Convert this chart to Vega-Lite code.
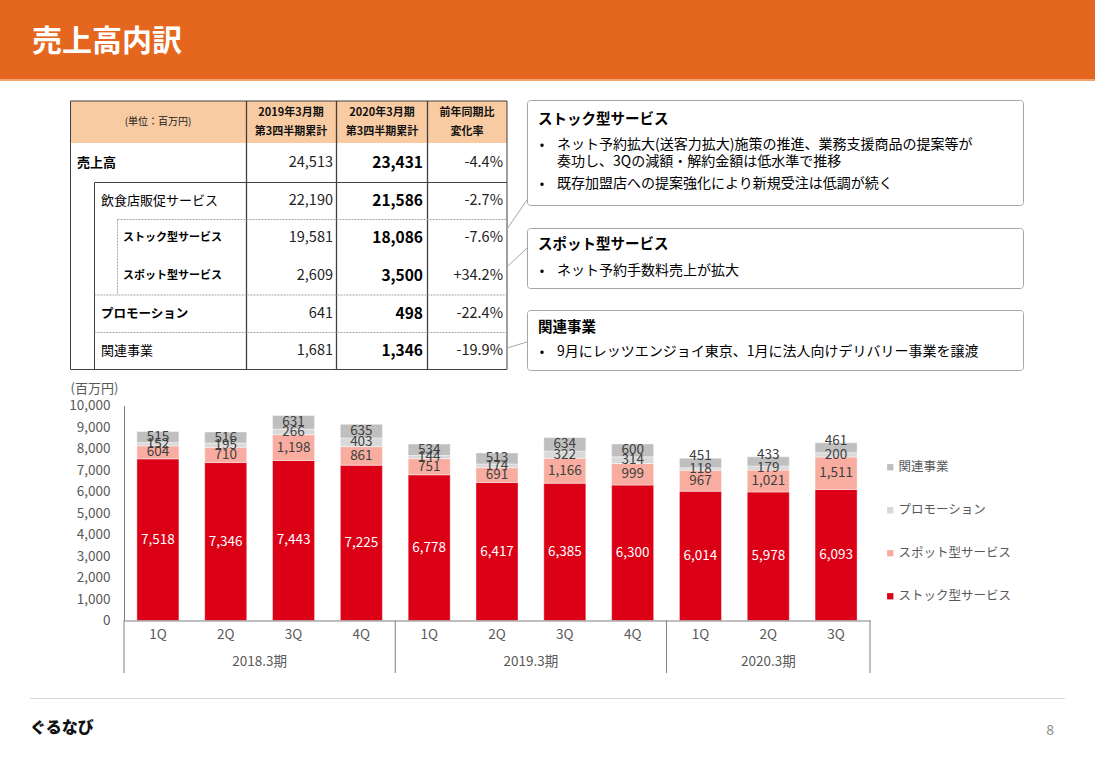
{
  "$schema": "https://vega.github.io/schema/vega-lite/v6.json",
  "width": 1095,
  "height": 758,
  "padding": 0,
  "autosize": {"type": "none"},
  "background": "#ffffff",
  "config": {"view": {"stroke": null}, "font": "Noto Sans CJK JP"},
  "data": {"values": [{}]},
  "layer": [
    {"mark": {"type": "rect", "fill": "#E5671F"}, "encoding": {"x": {"value": 0}, "x2": {"value": 1095}, "y": {"value": 0}, "y2": {"value": 79}}},
    {"mark": {"type": "rect", "fill": "#F3A56F"}, "encoding": {"x": {"value": 0}, "x2": {"value": 1095}, "y": {"value": 79}, "y2": {"value": 81}}},
    {"mark": {"type": "text", "text": "売上高内訳", "align": "left", "baseline": "middle", "fontSize": 30, "fontWeight": "bold", "fill": "#ffffff"}, "encoding": {"x": {"value": 32}, "y": {"value": 42}}},

    {"mark": {"type": "rect", "fill": "#F8CBA2"}, "encoding": {"x": {"value": 70.5}, "x2": {"value": 507}, "y": {"value": 101}, "y2": {"value": 143}}},
    {"mark": {"type": "rule", "stroke": "#404040", "strokeWidth": 1}, "encoding": {"x": {"value": 70.5}, "x2": {"value": 507}, "y": {"value": 101}, "y2": {"value": 101}}},
    {"mark": {"type": "rule", "stroke": "#404040", "strokeWidth": 1}, "encoding": {"x": {"value": 70.5}, "x2": {"value": 507}, "y": {"value": 369.5}, "y2": {"value": 369.5}}},
    {"mark": {"type": "rule", "stroke": "#404040", "strokeWidth": 1}, "encoding": {"x": {"value": 70.5}, "x2": {"value": 70.5}, "y": {"value": 101}, "y2": {"value": 369.5}}},
    {"mark": {"type": "rule", "stroke": "#404040", "strokeWidth": 1}, "encoding": {"x": {"value": 507}, "x2": {"value": 507}, "y": {"value": 101}, "y2": {"value": 369.5}}},
    {"mark": {"type": "rule", "stroke": "#404040", "strokeWidth": 1.3}, "encoding": {"x": {"value": 246.5}, "x2": {"value": 246.5}, "y": {"value": 101}, "y2": {"value": 369.5}}},
    {"mark": {"type": "rule", "stroke": "#404040", "strokeWidth": 1.3}, "encoding": {"x": {"value": 336.5}, "x2": {"value": 336.5}, "y": {"value": 101}, "y2": {"value": 369.5}}},
    {"mark": {"type": "rule", "stroke": "#404040", "strokeWidth": 1.3}, "encoding": {"x": {"value": 427.5}, "x2": {"value": 427.5}, "y": {"value": 101}, "y2": {"value": 369.5}}},
    {"mark": {"type": "rule", "stroke": "#404040", "strokeWidth": 1}, "encoding": {"x": {"value": 94.5}, "x2": {"value": 507}, "y": {"value": 182.5}, "y2": {"value": 182.5}}},
    {"mark": {"type": "rule", "stroke": "#404040", "strokeWidth": 1}, "encoding": {"x": {"value": 94.5}, "x2": {"value": 94.5}, "y": {"value": 182.5}, "y2": {"value": 369.5}}},
    {"mark": {"type": "rule", "stroke": "#A6A6A6", "strokeWidth": 1, "strokeDash": [2, 1]}, "encoding": {"x": {"value": 117.5}, "x2": {"value": 117.5}, "y": {"value": 219.5}, "y2": {"value": 295}}},
    {"mark": {"type": "rule", "stroke": "#A6A6A6", "strokeWidth": 1, "strokeDash": [2, 1]}, "encoding": {"x": {"value": 117.5}, "x2": {"value": 507}, "y": {"value": 219.5}, "y2": {"value": 219.5}}},
    {"mark": {"type": "rule", "stroke": "#A6A6A6", "strokeWidth": 1, "strokeDash": [2, 1]}, "encoding": {"x": {"value": 94.5}, "x2": {"value": 507}, "y": {"value": 295}, "y2": {"value": 295}}},
    {"mark": {"type": "rule", "stroke": "#A6A6A6", "strokeWidth": 1, "strokeDash": [2, 1]}, "encoding": {"x": {"value": 94.5}, "x2": {"value": 507}, "y": {"value": 332.5}, "y2": {"value": 332.5}}},
    {"mark": {"type": "text", "text": "(単位：百万円)", "align": "center", "baseline": "middle", "fontSize": 10, "fill": "#222222"}, "encoding": {"x": {"value": 158}, "y": {"value": 122}}},
    {"mark": {"type": "text", "text": "2019年3月期", "align": "center", "baseline": "middle", "fontSize": 11, "fontWeight": "bold", "fill": "#111111"}, "encoding": {"x": {"value": 291}, "y": {"value": 113}}},
    {"mark": {"type": "text", "text": "第3四半期累計", "align": "center", "baseline": "middle", "fontSize": 11, "fontWeight": "bold", "fill": "#111111"}, "encoding": {"x": {"value": 291}, "y": {"value": 132}}},
    {"mark": {"type": "text", "text": "2020年3月期", "align": "center", "baseline": "middle", "fontSize": 11, "fontWeight": "bold", "fill": "#111111"}, "encoding": {"x": {"value": 382}, "y": {"value": 113}}},
    {"mark": {"type": "text", "text": "第3四半期累計", "align": "center", "baseline": "middle", "fontSize": 11, "fontWeight": "bold", "fill": "#111111"}, "encoding": {"x": {"value": 382}, "y": {"value": 132}}},
    {"mark": {"type": "text", "text": "前年同期比", "align": "center", "baseline": "middle", "fontSize": 11, "fontWeight": "bold", "fill": "#111111"}, "encoding": {"x": {"value": 467}, "y": {"value": 113}}},
    {"mark": {"type": "text", "text": "変化率", "align": "center", "baseline": "middle", "fontSize": 11, "fontWeight": "bold", "fill": "#111111"}, "encoding": {"x": {"value": 467}, "y": {"value": 132}}},

    {
      "data": {"values": [
        {"item": "売上高", "fy2019": 24513, "fy2020": 23431, "chg": "-4.4%"},
        {"item": "飲食店販促サービス", "fy2019": 22190, "fy2020": 21586, "chg": "-2.7%"},
        {"item": "ストック型サービス", "fy2019": 19581, "fy2020": 18086, "chg": "-7.6%"},
        {"item": "スポット型サービス", "fy2019": 2609, "fy2020": 3500, "chg": "+34.2%"},
        {"item": "プロモーション", "fy2019": 641, "fy2020": 498, "chg": "-22.4%"},
        {"item": "関連事業", "fy2019": 1681, "fy2020": 1346, "chg": "-19.9%"}
      ]},
      "encoding": {
        "y": {"value": 0},
        "yOffset": {"field": "item", "type": "nominal",
              "scale": {"type": "band", "domain": ["売上高", "飲食店販促サービス", "ストック型サービス", "スポット型サービス", "プロモーション", "関連事業"], "range": [144, 370], "paddingInner": 0, "paddingOuter": 0}}
      },
      "layer": [
        {"transform": [{"filter": "datum.item === '売上高'"}],
         "mark": {"type": "text", "align": "left", "baseline": "middle", "fontSize": 13, "fontWeight": "bold", "fill": "#000000"},
         "encoding": {"x": {"value": 77}, "text": {"field": "item"}}},
        {"transform": [{"filter": "datum.item === '飲食店販促サービス' || datum.item === '関連事業'"}],
         "mark": {"type": "text", "align": "left", "baseline": "middle", "fontSize": 13, "fill": "#000000"},
         "encoding": {"x": {"value": 101}, "text": {"field": "item"}}},
        {"transform": [{"filter": "datum.item === 'プロモーション'"}],
         "mark": {"type": "text", "align": "left", "baseline": "middle", "fontSize": 12.5, "fontWeight": "bold", "fill": "#000000"},
         "encoding": {"x": {"value": 101}, "text": {"field": "item"}}},
        {"transform": [{"filter": "datum.item === 'ストック型サービス' || datum.item === 'スポット型サービス'"}],
         "mark": {"type": "text", "align": "left", "baseline": "middle", "fontSize": 11, "fontWeight": "bold", "fill": "#000000"},
         "encoding": {"x": {"value": 123}, "text": {"field": "item"}}},
        {"mark": {"type": "text", "align": "right", "baseline": "middle", "fontSize": 14.5, "fill": "#222222"},
         "encoding": {"x": {"value": 333}, "text": {"field": "fy2019", "type": "quantitative", "format": ","}}},
        {"mark": {"type": "text", "align": "right", "baseline": "middle", "fontSize": 15.5, "fontWeight": "bold", "fill": "#000000"},
         "encoding": {"x": {"value": 423}, "text": {"field": "fy2020", "type": "quantitative", "format": ","}}},
        {"mark": {"type": "text", "align": "right", "baseline": "middle", "fontSize": 14.5, "fill": "#222222"},
         "encoding": {"x": {"value": 503}, "text": {"field": "chg"}}}
      ]
    },

    {"mark": {"type": "rule", "stroke": "#A6A6A6", "strokeWidth": 1}, "encoding": {"x": {"value": 507}, "y": {"value": 229}, "x2": {"value": 527}, "y2": {"value": 200}}},
    {"mark": {"type": "rule", "stroke": "#A6A6A6", "strokeWidth": 1}, "encoding": {"x": {"value": 507}, "y": {"value": 267}, "x2": {"value": 527}, "y2": {"value": 248}}},
    {"mark": {"type": "rule", "stroke": "#A6A6A6", "strokeWidth": 1}, "encoding": {"x": {"value": 507}, "y": {"value": 348}, "x2": {"value": 527}, "y2": {"value": 342}}},
    {"mark": {"type": "rect", "fill": "#ffffff", "stroke": "#A6A6A6", "strokeWidth": 1, "cornerRadius": 3}, "encoding": {"x": {"value": 527.5}, "x2": {"value": 1023.5}, "y": {"value": 100.5}, "y2": {"value": 205.5}}},
    {"mark": {"type": "rect", "fill": "#ffffff", "stroke": "#A6A6A6", "strokeWidth": 1, "cornerRadius": 3}, "encoding": {"x": {"value": 527.5}, "x2": {"value": 1023.5}, "y": {"value": 228.5}, "y2": {"value": 288.5}}},
    {"mark": {"type": "rect", "fill": "#ffffff", "stroke": "#A6A6A6", "strokeWidth": 1, "cornerRadius": 3}, "encoding": {"x": {"value": 527.5}, "x2": {"value": 1023.5}, "y": {"value": 310.5}, "y2": {"value": 370.5}}},
    {"mark": {"type": "text", "text": "ストック型サービス", "align": "left", "baseline": "middle", "fontSize": 14.5, "fontWeight": "bold", "fill": "#000000"}, "encoding": {"x": {"value": 538}, "y": {"value": 120}}},
    {"mark": {"type": "text", "text": "•", "align": "center", "baseline": "middle", "fontSize": 13, "fill": "#000000"}, "encoding": {"x": {"value": 542}, "y": {"value": 145}}},
    {"mark": {"type": "text", "text": "ネット予約拡大(送客力拡大)施策の推進、業務支援商品の提案等が", "align": "left", "baseline": "middle", "fontSize": 14, "fill": "#000000"}, "encoding": {"x": {"value": 557}, "y": {"value": 145}}},
    {"mark": {"type": "text", "text": "奏功し、3Qの減額・解約金額は低水準で推移", "align": "left", "baseline": "middle", "fontSize": 14, "fill": "#000000"}, "encoding": {"x": {"value": 557}, "y": {"value": 162}}},
    {"mark": {"type": "text", "text": "•", "align": "center", "baseline": "middle", "fontSize": 13, "fill": "#000000"}, "encoding": {"x": {"value": 542}, "y": {"value": 184}}},
    {"mark": {"type": "text", "text": "既存加盟店への提案強化により新規受注は低調が続く", "align": "left", "baseline": "middle", "fontSize": 14, "fill": "#000000"}, "encoding": {"x": {"value": 557}, "y": {"value": 184}}},
    {"mark": {"type": "text", "text": "スポット型サービス", "align": "left", "baseline": "middle", "fontSize": 14.5, "fontWeight": "bold", "fill": "#000000"}, "encoding": {"x": {"value": 538}, "y": {"value": 245}}},
    {"mark": {"type": "text", "text": "•", "align": "center", "baseline": "middle", "fontSize": 13, "fill": "#000000"}, "encoding": {"x": {"value": 542}, "y": {"value": 271}}},
    {"mark": {"type": "text", "text": "ネット予約手数料売上が拡大", "align": "left", "baseline": "middle", "fontSize": 14, "fill": "#000000"}, "encoding": {"x": {"value": 557}, "y": {"value": 271}}},
    {"mark": {"type": "text", "text": "関連事業", "align": "left", "baseline": "middle", "fontSize": 14.5, "fontWeight": "bold", "fill": "#000000"}, "encoding": {"x": {"value": 538}, "y": {"value": 328}}},
    {"mark": {"type": "text", "text": "•", "align": "center", "baseline": "middle", "fontSize": 13, "fill": "#000000"}, "encoding": {"x": {"value": 542}, "y": {"value": 352}}},
    {"mark": {"type": "text", "text": "9月にレッツエンジョイ東京、1月に法人向けデリバリー事業を譲渡", "align": "left", "baseline": "middle", "fontSize": 14, "fill": "#000000"}, "encoding": {"x": {"value": 557}, "y": {"value": 352}}},

    {
      "encoding": {
        "x": {"field": "period", "type": "nominal",
              "scale": {"domain": ["2018.3期 1Q", "2018.3期 2Q", "2018.3期 3Q", "2018.3期 4Q", "2019.3期 1Q", "2019.3期 2Q", "2019.3期 3Q", "2019.3期 4Q", "2020.3期 1Q", "2020.3期 2Q", "2020.3期 3Q"],
                        "range": [124, 870], "paddingInner": 0.38, "paddingOuter": 0.19},
              "axis": {"title": null, "labelExpr": "split(datum.label, ' ')[1]", "ticks": false, "tickSize": 0, "labelPadding": 7, "labelAngle": 0,
                       "labelFontSize": 13.5, "labelColor": "#595959", "domainColor": "#808080", "grid": false, "offset": -137.5, "zindex": 1}}
      },
      "layer": [
        {
          "data": {"values": [
            {"period": "2018.3期 1Q", "fy": "2018.3期", "segment": "ストック型サービス", "value": 7518},
            {"period": "2018.3期 1Q", "fy": "2018.3期", "segment": "スポット型サービス", "value": 604},
            {"period": "2018.3期 1Q", "fy": "2018.3期", "segment": "プロモーション", "value": 152},
            {"period": "2018.3期 1Q", "fy": "2018.3期", "segment": "関連事業", "value": 515},
            {"period": "2018.3期 2Q", "fy": "2018.3期", "segment": "ストック型サービス", "value": 7346},
            {"period": "2018.3期 2Q", "fy": "2018.3期", "segment": "スポット型サービス", "value": 710},
            {"period": "2018.3期 2Q", "fy": "2018.3期", "segment": "プロモーション", "value": 195},
            {"period": "2018.3期 2Q", "fy": "2018.3期", "segment": "関連事業", "value": 516},
            {"period": "2018.3期 3Q", "fy": "2018.3期", "segment": "ストック型サービス", "value": 7443},
            {"period": "2018.3期 3Q", "fy": "2018.3期", "segment": "スポット型サービス", "value": 1198},
            {"period": "2018.3期 3Q", "fy": "2018.3期", "segment": "プロモーション", "value": 266},
            {"period": "2018.3期 3Q", "fy": "2018.3期", "segment": "関連事業", "value": 631},
            {"period": "2018.3期 4Q", "fy": "2018.3期", "segment": "ストック型サービス", "value": 7225},
            {"period": "2018.3期 4Q", "fy": "2018.3期", "segment": "スポット型サービス", "value": 861},
            {"period": "2018.3期 4Q", "fy": "2018.3期", "segment": "プロモーション", "value": 403},
            {"period": "2018.3期 4Q", "fy": "2018.3期", "segment": "関連事業", "value": 635},
            {"period": "2019.3期 1Q", "fy": "2019.3期", "segment": "ストック型サービス", "value": 6778},
            {"period": "2019.3期 1Q", "fy": "2019.3期", "segment": "スポット型サービス", "value": 751},
            {"period": "2019.3期 1Q", "fy": "2019.3期", "segment": "プロモーション", "value": 144},
            {"period": "2019.3期 1Q", "fy": "2019.3期", "segment": "関連事業", "value": 534},
            {"period": "2019.3期 2Q", "fy": "2019.3期", "segment": "ストック型サービス", "value": 6417},
            {"period": "2019.3期 2Q", "fy": "2019.3期", "segment": "スポット型サービス", "value": 691},
            {"period": "2019.3期 2Q", "fy": "2019.3期", "segment": "プロモーション", "value": 174},
            {"period": "2019.3期 2Q", "fy": "2019.3期", "segment": "関連事業", "value": 513},
            {"period": "2019.3期 3Q", "fy": "2019.3期", "segment": "ストック型サービス", "value": 6385},
            {"period": "2019.3期 3Q", "fy": "2019.3期", "segment": "スポット型サービス", "value": 1166},
            {"period": "2019.3期 3Q", "fy": "2019.3期", "segment": "プロモーション", "value": 322},
            {"period": "2019.3期 3Q", "fy": "2019.3期", "segment": "関連事業", "value": 634},
            {"period": "2019.3期 4Q", "fy": "2019.3期", "segment": "ストック型サービス", "value": 6300},
            {"period": "2019.3期 4Q", "fy": "2019.3期", "segment": "スポット型サービス", "value": 999},
            {"period": "2019.3期 4Q", "fy": "2019.3期", "segment": "プロモーション", "value": 314},
            {"period": "2019.3期 4Q", "fy": "2019.3期", "segment": "関連事業", "value": 600},
            {"period": "2020.3期 1Q", "fy": "2020.3期", "segment": "ストック型サービス", "value": 6014},
            {"period": "2020.3期 1Q", "fy": "2020.3期", "segment": "スポット型サービス", "value": 967},
            {"period": "2020.3期 1Q", "fy": "2020.3期", "segment": "プロモーション", "value": 118},
            {"period": "2020.3期 1Q", "fy": "2020.3期", "segment": "関連事業", "value": 451},
            {"period": "2020.3期 2Q", "fy": "2020.3期", "segment": "ストック型サービス", "value": 5978},
            {"period": "2020.3期 2Q", "fy": "2020.3期", "segment": "スポット型サービス", "value": 1021},
            {"period": "2020.3期 2Q", "fy": "2020.3期", "segment": "プロモーション", "value": 179},
            {"period": "2020.3期 2Q", "fy": "2020.3期", "segment": "関連事業", "value": 433},
            {"period": "2020.3期 3Q", "fy": "2020.3期", "segment": "ストック型サービス", "value": 6093},
            {"period": "2020.3期 3Q", "fy": "2020.3期", "segment": "スポット型サービス", "value": 1511},
            {"period": "2020.3期 3Q", "fy": "2020.3期", "segment": "プロモーション", "value": 200},
            {"period": "2020.3期 3Q", "fy": "2020.3期", "segment": "関連事業", "value": 461}
          ]},
          "transform": [
            {"calculate": "indexof(['ストック型サービス','スポット型サービス','プロモーション','関連事業'], datum.segment)", "as": "order"},
            {"stack": "value", "groupby": ["period"], "sort": [{"field": "order", "order": "ascending"}], "as": ["v0", "v1"]},
            {"calculate": "(datum.v0 + datum.v1) / 2", "as": "mid"}
          ],
          "layer": [
            {
              "mark": {"type": "bar", "stroke": "#ffffff", "strokeWidth": 0.6, "strokeOpacity": 0.7},
              "encoding": {
                "y": {"field": "v0", "type": "quantitative",
                      "scale": {"domain": [0, 10000], "range": [620.5, 405.5], "nice": false, "zero": true},
                      "axis": {"values": [0, 1000, 2000, 3000, 4000, 5000, 6000, 7000, 8000, 9000, 10000], "format": ",.0f", "ticks": false, "tickSize": 0,
                               "labelPadding": 14, "labelFontSize": 13.5, "labelColor": "#595959", "domainColor": "#808080", "grid": false, "offset": -124, "zindex": 1,
                               "title": "(百万円)", "titleAngle": 0, "titleX": -54, "titleY": 388, "titleAlign": "left", "titleBaseline": "middle",
                               "titleFontSize": 13, "titleFontWeight": "normal", "titleColor": "#595959"}},
                "y2": {"field": "v1"},
                "color": {"field": "segment", "type": "nominal",
                          "scale": {"domain": ["ストック型サービス", "スポット型サービス", "プロモーション", "関連事業"], "range": ["#DC0017", "#F9ADA0", "#D9D9D9", "#BFBFBF"]},
                          "legend": {"orient": "none", "legendX": 884, "legendY": 461, "title": null,
                                     "values": ["関連事業", "プロモーション", "スポット型サービス", "ストック型サービス"],
                                     "symbolType": "square", "symbolSize": 40, "symbolStrokeWidth": 0,
                                     "labelFontSize": 12.5, "labelColor": "#595959", "labelOffset": 2, "rowPadding": 30}}
              }
            },
            {
              "transform": [{"filter": "datum.segment === 'ストック型サービス'"}],
              "mark": {"type": "text", "baseline": "middle", "align": "center", "fontSize": 13.5, "fill": "#ffffff"},
              "encoding": {
                "y": {"field": "mid", "type": "quantitative",
                      "axis": {"values": [0, 1000, 2000, 3000, 4000, 5000, 6000, 7000, 8000, 9000, 10000], "format": ",.0f", "ticks": false, "tickSize": 0,
                               "labelPadding": 14, "labelFontSize": 13.5, "labelColor": "#595959", "domainColor": "#808080", "grid": false, "offset": -124, "zindex": 1,
                               "title": "(百万円)", "titleAngle": 0, "titleX": -54, "titleY": 388, "titleAlign": "left", "titleBaseline": "middle",
                               "titleFontSize": 13, "titleFontWeight": "normal", "titleColor": "#595959"}},
                "text": {"field": "value", "type": "quantitative", "format": ","}}
            },
            {
              "transform": [{"filter": "datum.segment !== 'ストック型サービス' && !(datum.fy === '2020.3期' && datum.segment === '関連事業')"}],
              "mark": {"type": "text", "baseline": "middle", "align": "center", "fontSize": 13.5, "fill": "#404040"},
              "encoding": {
                "y": {"field": "mid", "type": "quantitative",
                      "axis": {"values": [0, 1000, 2000, 3000, 4000, 5000, 6000, 7000, 8000, 9000, 10000], "format": ",.0f", "ticks": false, "tickSize": 0,
                               "labelPadding": 14, "labelFontSize": 13.5, "labelColor": "#595959", "domainColor": "#808080", "grid": false, "offset": -124, "zindex": 1,
                               "title": "(百万円)", "titleAngle": 0, "titleX": -54, "titleY": 388, "titleAlign": "left", "titleBaseline": "middle",
                               "titleFontSize": 13, "titleFontWeight": "normal", "titleColor": "#595959"}},
                "text": {"field": "value", "type": "quantitative", "format": ","}}
            },
            {
              "transform": [{"filter": "datum.fy === '2020.3期' && datum.segment === '関連事業'"}],
              "mark": {"type": "text", "baseline": "middle", "align": "center", "fontSize": 13.5, "fill": "#404040", "dy": -2},
              "encoding": {
                "y": {"field": "v1", "type": "quantitative",
                      "axis": {"values": [0, 1000, 2000, 3000, 4000, 5000, 6000, 7000, 8000, 9000, 10000], "format": ",.0f", "ticks": false, "tickSize": 0,
                               "labelPadding": 14, "labelFontSize": 13.5, "labelColor": "#595959", "domainColor": "#808080", "grid": false, "offset": -124, "zindex": 1,
                               "title": "(百万円)", "titleAngle": 0, "titleX": -54, "titleY": 388, "titleAlign": "left", "titleBaseline": "middle",
                               "titleFontSize": 13, "titleFontWeight": "normal", "titleColor": "#595959"}},
                "text": {"field": "value", "type": "quantitative", "format": ","}}
            }
          ]
        },
        {
          "data": {"values": [{"period": "2018.3期 1Q"}, {"period": "2019.3期 1Q"}, {"period": "2020.3期 1Q"}]},
          "mark": {"type": "rule", "stroke": "#808080", "strokeWidth": 1},
          "encoding": {"x": {"field": "period", "type": "nominal", "bandPosition": -0.3065}, "y": {"value": 620.5}, "y2": {"value": 673}}
        },
        {
          "data": {"values": [{"period": "2020.3期 3Q"}]},
          "mark": {"type": "rule", "stroke": "#808080", "strokeWidth": 1},
          "encoding": {"x": {"field": "period", "type": "nominal", "bandPosition": 1.3065}, "y": {"value": 620.5}, "y2": {"value": 673}}
        },
        {
          "data": {"values": [{"period": "2018.3期 2Q", "fy": "2018.3期"}, {"period": "2019.3期 2Q", "fy": "2019.3期"}]},
          "mark": {"type": "text", "baseline": "middle", "align": "center", "fontSize": 13.5, "fill": "#595959"},
          "encoding": {"x": {"field": "period", "type": "nominal", "bandPosition": 1.3065}, "y": {"value": 662}, "text": {"field": "fy"}}
        },
        {
          "data": {"values": [{"period": "2020.3期 2Q", "fy": "2020.3期"}]},
          "mark": {"type": "text", "baseline": "middle", "align": "center", "fontSize": 13.5, "fill": "#595959"},
          "encoding": {"x": {"field": "period", "type": "nominal", "bandPosition": 0.5}, "y": {"value": 662}, "text": {"field": "fy"}}
        }
      ]
    },

    {"mark": {"type": "rule", "stroke": "#D9D9D9", "strokeWidth": 1}, "encoding": {"x": {"value": 30}, "x2": {"value": 1065}, "y": {"value": 698.5}, "y2": {"value": 698.5}}},
    {"mark": {"type": "text", "text": "ぐるなび", "align": "left", "baseline": "middle", "fontSize": 16, "fontWeight": 900, "fill": "#111111"}, "encoding": {"x": {"value": 30}, "y": {"value": 728}}},
    {"mark": {"type": "text", "text": "8", "align": "right", "baseline": "middle", "fontSize": 14, "fill": "#8C8C8C"}, "encoding": {"x": {"value": 1054}, "y": {"value": 731}}}
  ]
}
